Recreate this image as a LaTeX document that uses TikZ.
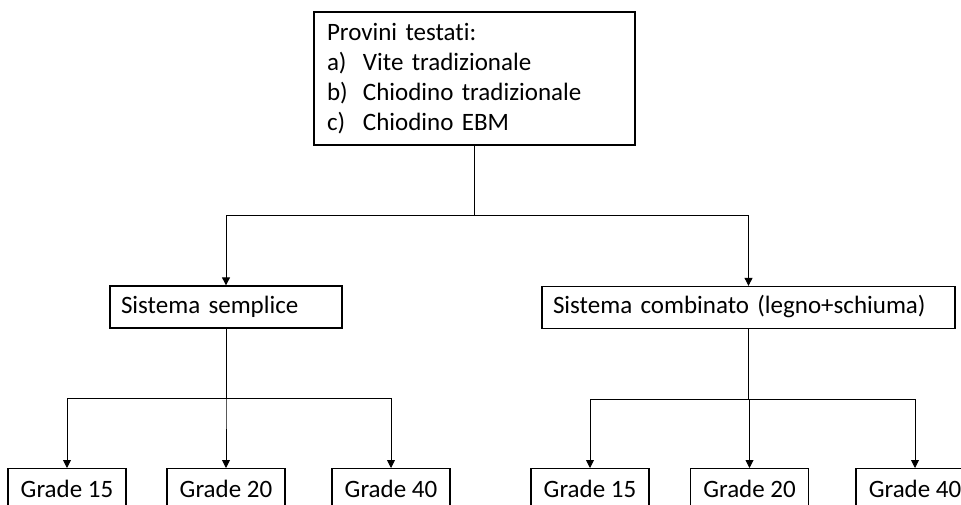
\documentclass[tikz,border=0pt]{standalone}
\usepackage{fontspec}
\setmainfont{Carlito}[Ligatures=NoCommon]
\usetikzlibrary{arrows.meta}
\tikzset{
	box/.style={draw,line width=1.3pt,inner xsep=11pt,font=\fontsize{25}{30}\selectfont},
	row/.style={text height=17pt,text depth=5pt},
	conn/.style={line width=0.9pt,-{Triangle[width=8pt,length=8pt]}}
}
\begin{document}
\begin{tikzpicture}[x=1pt,y=-1pt]
			\useasboundingbox (0,0) rectangle (961,505);
			\clip (0,0) rectangle (961,505);
			% Riquadro provini
			\node[box,inner xsep=13pt,text width=295pt,minimum height=133pt,align=left] (prov) at (474.5,78.5)
{Provini testati:\\
\makebox[36pt][l]{a)}Vite tradizionale\\
\makebox[36pt][l]{b)}Chiodino tradizionale\\
\makebox[36pt][l]{c)}Chiodino EBM};
			% Sistemi
			\node[box,row,text width=210pt,minimum height=42pt,align=left] (ss) at (226,307) {Sistema semplice};
			\node[box,row,text width=391pt,minimum height=42pt,align=left] (sc) at (748.5,307.5) {Sistema combinato (legno+schiuma)};
			\foreach \n in {ss,sc}
			\draw[conn] (prov.south) -- ++(0,70) -| (\n.north);
			% Gradi sistema semplice
 			\foreach \x/\n/\g in {67/ssa/15,226/ssb/20,391/ssc/40}
			\node[box,row,anchor=north,minimum width=118pt,inner ysep=12pt] (\n) at (\x,468) {Grade \g};
			\foreach \n in {ssa,ssb,ssc}
			\draw[conn] (ss.south) -- ++(0,70) -| (\n.north);
			\draw[line width=1.3pt] (ss.south) ++(0,70) -- ++(45,0);
			% Gradi sistema combinato
 			\foreach \x/\n/\g in {590/sca/15,749.5/scb/20,915/scc/40}
			\node[box,row,anchor=north,minimum width=118pt,inner ysep=12pt] (\n) at (\x,468) {Grade \g};
			\foreach \n in {sca,scb,scc}
			\draw[conn] (sc.south) -- ++(0,70) -| (\n.north);
			\draw[line width=1.3pt] (sc.south) ++(0,70) -- ++(45,0);
		\end{tikzpicture}
\end{document}
